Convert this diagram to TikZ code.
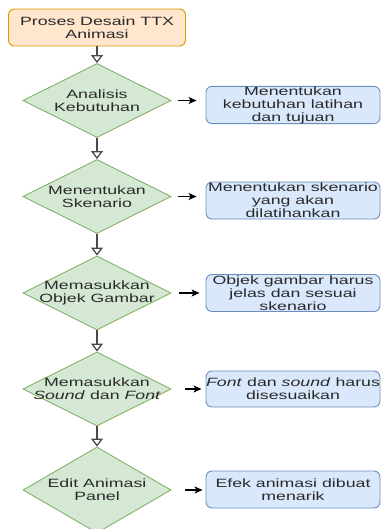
\documentclass[tikz,border=0pt]{standalone}
\usepackage{fontspec}
\setmainfont{Liberation Sans}[FakeStretch=1.48]
\usepackage{tikz}
\usetikzlibrary{shapes.geometric,arrows.meta}
\definecolor{ttxOrange}{HTML}{FFE6CC}
\definecolor{ttxOrangeLine}{HTML}{D79B00}
\definecolor{ttxGreen}{HTML}{D5E8D4}
\definecolor{ttxGreenLine}{HTML}{82B366}
\definecolor{ttxBlue}{HTML}{DAE8FC}
\definecolor{ttxBlueLine}{HTML}{6C8EBF}
\definecolor{ttxText}{HTML}{2A2A2A}
\tikzset{
  txt/.style={font=\fontsize{12}{13}\selectfont,align=center,text=ttxText},
  startbox/.style={txt,draw=ttxOrangeLine,fill=ttxOrange,line width=0.9pt,rounded corners=6pt,minimum width=177pt,minimum height=37pt,inner sep=0pt},
  dia/.style={diamond,draw=ttxGreenLine,fill=ttxGreen,line width=0.9pt,minimum width=148pt,minimum height=74pt,inner sep=0pt},
  dlabel/.style={txt,inner sep=0pt},
  infobox/.style={txt,draw=ttxBlueLine,fill=ttxBlue,line width=0.9pt,rounded corners=6pt,minimum width=174pt,minimum height=37pt,inner sep=0pt},
  down/.style={draw=ttxText!85,line width=1.3pt,-{Triangle[open,length=8pt,width=12pt]}},
  side/.style={draw=black,line width=1.1pt,-{Stealth[length=8pt,width=7pt,inset=2pt]}}
}
\begin{document}
\begin{tikzpicture}[x=1pt,y=-1pt]
\useasboundingbox (0,0) rectangle (381,529);
\node[startbox] (start) at (97,27.5) {Proses Desain TTX\\Animasi};
% steps
\node[dia] (d1) at (97,100.5) {};
\node[dlabel] (t1) at (d1) {Analisis\\Kebutuhan};
\node[dia] (d2) at (97,196.5) {};
\node[dlabel] (t2) at (d2) {Menentukan\\Skenario};
\node[dia] (d3) at (97,293) {};
\node[dlabel] (t3) at (d3) {Memasukkan\\Objek Gambar};
\node[dia] (d4) at (97,389) {};
\node[dlabel] (t4) at (d4) {Memasukkan\\\textit{Sound} dan \textit{Font}};
\node[dia,minimum height=86pt] (d5) at (97,490) {};
\node[dlabel] (t5) at (d5) {Edit Animasi\\Panel};
% notes
\node[infobox] (b1) at (293,105) {Menentukan\\kebutuhan latihan\\dan tujuan};
\node[infobox] (b2) at (293,200.5) {Menentukan skenario\\yang akan\\dilatihankan};
\node[infobox] (b3) at (293,293) {Objek gambar harus\\jelas dan sesuai\\skenario};
\node[infobox,minimum height=36pt] (b4) at (293,389) {\textit{Font} dan \textit{sound} harus\\disesuaikan};
\node[infobox] (b5) at (293,489.5) {Efek animasi dibuat\\menarik};
% flow
\draw[down] (start.south) -- (d1.north);
\draw[down] (d1.south) -- (d2.north);
\draw[down] (d2.south) -- (d3.north);
\draw[down] (d3.south) -- (d4.north);
\draw[down] (d4.south) -- (d5.north);
\draw[side,shorten <=7pt,shorten >=9pt] (d1.east) -- (d1.east -| b1.west);
\draw[side,shorten <=7pt,shorten >=9pt] (d2.east) -- (d2.east -| b2.west);
\draw[side,shorten <=8pt,shorten >=6pt] (d3.east) -- (d3.east -| b3.west);
\draw[side,shorten <=14pt,shorten >=4pt] (d4.east) -- (d4.east -| b4.west);
\draw[side,shorten <=14pt,shorten >=3pt] (d5.east) -- (d5.east -| b5.west);
\end{tikzpicture}
\end{document}
